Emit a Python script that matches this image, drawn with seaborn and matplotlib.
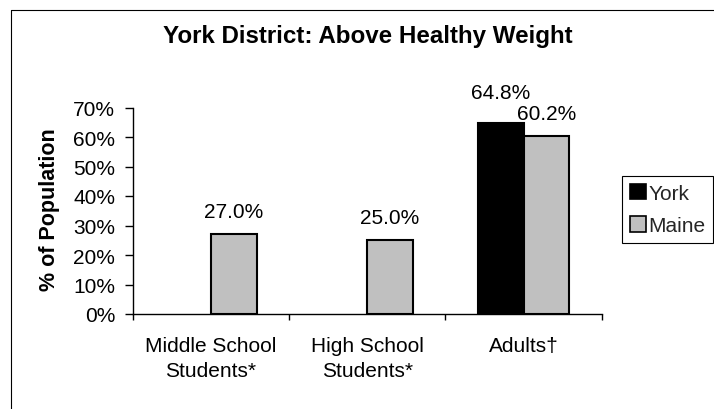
import matplotlib
matplotlib.use("Agg")
import matplotlib.pyplot as plt
import seaborn as sns
import pandas as pd
import numpy as np
from matplotlib.lines import Line2D
from matplotlib.ticker import FuncFormatter, FixedLocator

categories = ["Middle School\nStudents*", "High School\nStudents*", "Adults†"]
york = [np.nan, np.nan, 64.8]
maine = [27.0, 25.0, 60.2]
series = ["York", "Maine"]
colors = {"York": "#000000", "Maine": "#C0C0C0"}
yticks = [0, 10, 20, 30, 40, 50, 60, 70]

sns.set_theme(style="white")
plt.rcParams["font.family"] = ["Liberation Sans", "DejaVu Sans"]

df = pd.DataFrame({
    "category": categories * 2,
    "series": ["York"] * 3 + ["Maine"] * 3,
    "value": york + maine,
})

W, H = 714, 410
FS = 15
fig = plt.figure(figsize=(W / 100, H / 100), dpi=100)
ax = fig.add_axes([132.7 / W, 1 - 315 / H, (601.7 - 132.7) / W, (315 - 108.5) / H])

sns.barplot(data=df, x="category", y="value", hue="series", order=categories,
            hue_order=series, palette=colors, width=0.585, edgecolor="black",
            linewidth=1.5, ax=ax, legend=True)

ax.set_xlim(-0.5, 2.5)
ax.set_ylim(0, 70)
ax.set_yticks(yticks)
ax.yaxis.set_major_formatter(FuncFormatter(lambda v, p: f"{v:.0f}%"))
ax.set_xlabel("")
ax.set_ylabel("")
for s in ["top", "right"]:
    ax.spines[s].set_visible(False)
for s in ["left", "bottom"]:
    ax.spines[s].set_color("black")
    ax.spines[s].set_linewidth(1.0)

ax.tick_params(axis="y", which="major", direction="out", length=5.5, width=1,
               color="black", labelsize=FS, pad=7, left=True, labelcolor="black")
ax.tick_params(axis="x", which="major", length=0, labelsize=FS, pad=15.5, labelcolor="black")
ax.xaxis.set_minor_locator(FixedLocator([-0.5, 0.5, 1.5, 2.5]))
ax.tick_params(axis="x", which="minor", direction="out", length=4.5, width=1,
               color="black", bottom=True)
for t in ax.get_xticklabels():
    t.set_linespacing(1.4)

# value labels (heights taken from the drawn bars)
top_val = max(np.nanmax(york), np.nanmax(maine))
for cont in ax.containers:
    for bar in cont:
        v = bar.get_height()
        if np.isnan(v) or v == 0:
            continue
        off = 15 if v == top_val else 9.5
        ax.annotate(f"{v:.1f}%", (bar.get_x() + bar.get_width() / 2, v),
                    xytext=(0, off), textcoords="offset points",
                    ha="center", va="bottom", fontsize=FS, color="black")

# legend
handles = [plt.Rectangle((0, 0), 1, 1, facecolor=colors[s], edgecolor="black", linewidth=1.2)
           for s in series]
ax.legend(handles, series, loc="upper left",
          bbox_to_anchor=(622 / W, 1 - 177 / H), bbox_transform=fig.transFigure,
          frameon=True, fancybox=False, framealpha=1, edgecolor="black",
          fontsize=FS, handlelength=0.77, handleheight=0.77, handletextpad=0.1,
          borderpad=0.38, labelspacing=0.65, borderaxespad=0)
ax.get_legend().get_frame().set_linewidth(0.8)

fig.text(368 / W, 1 - 37 / H, "York District: Above Healthy Weight",
         ha="center", va="center", fontsize=17.4, fontweight="bold", color="black")
fig.text(49 / W, 1 - 210 / H, "% of Population", rotation=90,
         ha="center", va="center", fontsize=15.5, fontweight="bold", color="black")

# outer chart border (top and left visible)
fig.add_artist(Line2D([10.5 / W, 10.5 / W], [0, 1 - 10.5 / H], transform=fig.transFigure,
                      color="black", linewidth=0.8))
fig.add_artist(Line2D([10.5 / W, 1], [1 - 10.5 / H, 1 - 10.5 / H], transform=fig.transFigure,
                      color="black", linewidth=0.8))

fig.savefig("out.png", dpi=100, facecolor="white")
